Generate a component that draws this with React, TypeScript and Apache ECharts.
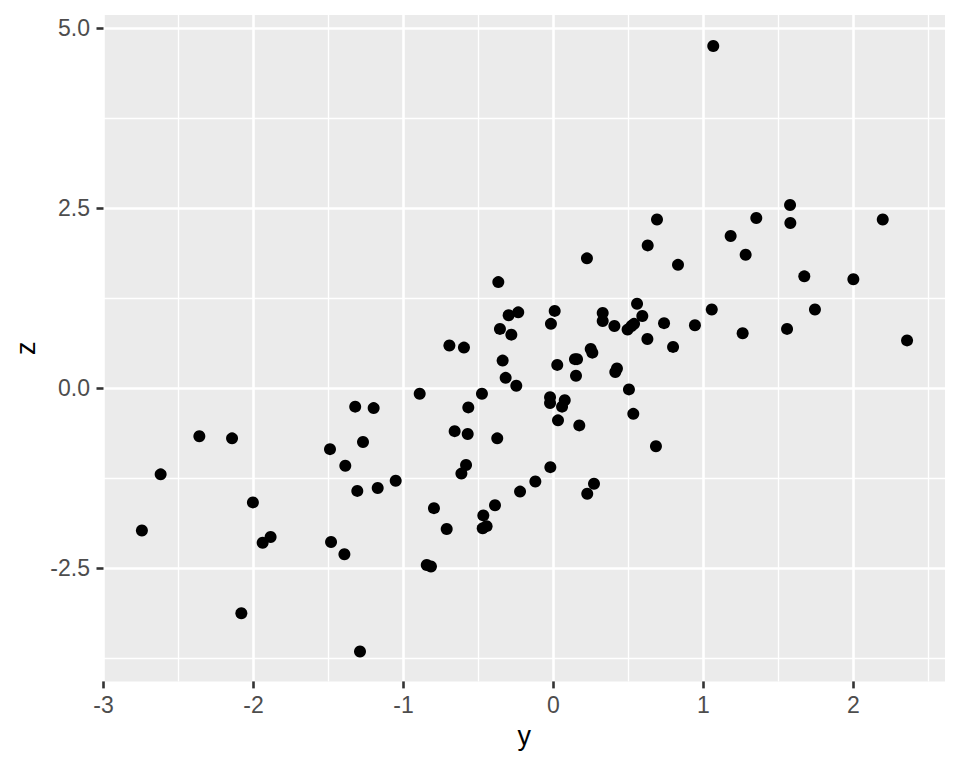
import React, { useEffect, useRef } from "react";
import * as echarts from "echarts";

// variable "y" (horizontal) and "z" (vertical) for each point
const yVals: number[] = [
  -2.744, -2.619, -2.361, -2.143, -2.004, -1.939, -1.886, -2.081, -1.49, -1.483,
  -1.388, -1.394, -1.322, -1.308, -1.27, -1.199, -1.172, -1.052, -1.29,
  -0.892, -0.845, -0.817, -0.797, -0.712, -0.694, -0.659, -0.614, -0.597, -0.583,
  -0.572, -0.568, -0.477, -0.468, -0.472, -0.446, -0.39, -0.368, -0.375, -0.357,
  -0.339, -0.319, -0.299, -0.281, -0.248, -0.235, -0.223, -0.121, -0.017, -0.023,
  -0.023, -0.021, 0.008, 0.025, 0.03, 0.057, 0.075, 0.143, 0.157, 0.15,
  0.172, 0.223, 0.225, 0.248, 0.259, 0.27, 0.328, 0.328, 0.406, 0.423,
  0.412, 0.494, 0.503, 0.532, 0.52, 0.537, 0.557, 0.592, 0.628, 0.626,
  0.683, 0.69, 0.737, 0.797, 0.83, 0.943, 1.055, 1.065, 1.181, 1.261,
  1.281, 1.352, 1.557, 1.577, 1.579, 1.672, 1.743, 1.999, 2.195, 2.357,
];
const zVals: number[] = [
  -1.98, -1.2, -0.67, -0.7, -1.59, -2.15, -2.07, -3.13, -0.85, -2.14,
  -1.08, -2.31, -0.26, -1.43, -0.75, -0.28, -1.39, -1.29, -3.66,
  -0.08, -2.46, -2.48, -1.67, -1.96, 0.59, -0.6, -1.19, 0.56, -1.07,
  -0.64, -0.27, -0.08, -1.77, -1.95, -1.92, -1.63, 1.47, -0.7, 0.82,
  0.38, 0.14, 1.01, 0.74, 0.03, 1.05, -1.44, -1.3, 0.89, -0.13,
  -0.21, -1.1, 1.07, 0.32, -0.45, -0.26, -0.17, 0.4, 0.4, 0.17,
  -0.52, 1.8, -1.47, 0.54, 0.49, -1.33, 1.04, 0.93, 0.86, 0.27,
  0.22, 0.81, -0.02, -0.36, 0.86, 0.89, 1.17, 1.0, 1.98, 0.68,
  -0.81, 2.34, 0.9, 0.57, 1.71, 0.87, 1.09, 4.75, 2.11, 0.76,
  1.85, 2.36, 0.82, 2.54, 2.29, 1.55, 1.09, 1.51, 2.34, 0.66,
];

const xMajorTicks = [-3, -2, -1, 0, 1, 2];
const xMinorTicks = [-2.5, -1.5, -0.5, 0.5, 1.5, 2.5];
const yMajorTicks = [-2.5, 0, 2.5, 5];
const yMinorTicks = [-3.75, -1.25, 1.25, 3.75];

const FONT = "'Liberation Sans', Arial, Helvetica, sans-serif";

export default function App() {
  const ref = useRef<HTMLDivElement>(null);

  useEffect(() => {
    if (!ref.current) return;
    const chart = echarts.init(ref.current, undefined, { renderer: "svg" });
    const xMin = -3.0;
    const xMax = 2.61;
    const yMin = -4.076;
    const yMax = 5.18;

    chart.setOption({
      animation: false,
      backgroundColor: "#FFFFFF",
      grid: {
        left: 103.5,
        right: 15,
        top: 15,
        bottom: 86.6,
        show: true,
        backgroundColor: "#EBEBEB",
        borderWidth: 0,
        containLabel: false,
      },
      xAxis: [
        {
          type: "value",
          min: xMin,
          max: xMax,
          position: "bottom",
          axisLine: { show: false, onZero: false },
          axisTick: { show: false, customValues: xMinorTicks },
          axisLabel: { show: false, customValues: xMinorTicks },
          splitLine: { show: true, lineStyle: { color: "#FFFFFF", width: 1.3 } },
          z: 1,
        },
        {
          type: "value",
          min: xMin,
          max: xMax,
          position: "bottom",
          name: "y",
          nameLocation: "middle",
          nameGap: 41,
          nameTextStyle: { color: "#000000", fontSize: 27, fontFamily: FONT },
          axisLine: { show: false, onZero: false },
          axisTick: {
            show: true,
            inside: false,
            length: 7,
            customValues: xMajorTicks,
            lineStyle: { color: "#333333", width: 2.6 },
          },
          axisLabel: {
            show: true,
            customValues: xMajorTicks,
            margin: 12,
            color: "#4D4D4D",
            fontSize: 23,
            fontFamily: FONT,
            formatter: (v: number) => String(v),
          },
          splitLine: { show: true, lineStyle: { color: "#FFFFFF", width: 2.6 } },
          z: 2,
        },
      ],
      yAxis: [
        {
          type: "value",
          min: yMin,
          max: yMax,
          position: "left",
          axisLine: { show: false, onZero: false },
          axisTick: { show: false, customValues: yMinorTicks },
          axisLabel: { show: false, customValues: yMinorTicks },
          splitLine: { show: true, lineStyle: { color: "#FFFFFF", width: 1.3 } },
          z: 1,
        },
        {
          type: "value",
          min: yMin,
          max: yMax,
          position: "left",
          name: "z",
          nameLocation: "middle",
          nameRotate: 90,
          nameGap: 64,
          nameTextStyle: { color: "#000000", fontSize: 27, fontFamily: FONT },
          axisLine: { show: false, onZero: false },
          axisTick: {
            show: true,
            inside: false,
            length: 7,
            customValues: yMajorTicks,
            lineStyle: { color: "#333333", width: 2.6 },
          },
          axisLabel: {
            show: true,
            customValues: yMajorTicks,
            margin: 13.5,
            color: "#4D4D4D",
            fontSize: 23,
            fontFamily: FONT,
            formatter: (v: number) => v.toFixed(1),
          },
          splitLine: { show: true, lineStyle: { color: "#FFFFFF", width: 2.6 } },
          z: 2,
        },
      ],
      series: [
        {
          type: "scatter",
          xAxisIndex: 1,
          yAxisIndex: 1,
          symbol: "circle",
          symbolSize: 12,
          itemStyle: { color: "#000000", opacity: 1 },
          data: yVals.map((x, i) => [x, zVals[i]]),
          z: 5,
        },
      ],
    });

    return () => chart.dispose();
  }, []);

  return (
    <div
      ref={ref}
      style={{ position: "fixed", left: 0, top: 0, width: 960, height: 768, background: "#FFFFFF" }}
    />
  );
}
